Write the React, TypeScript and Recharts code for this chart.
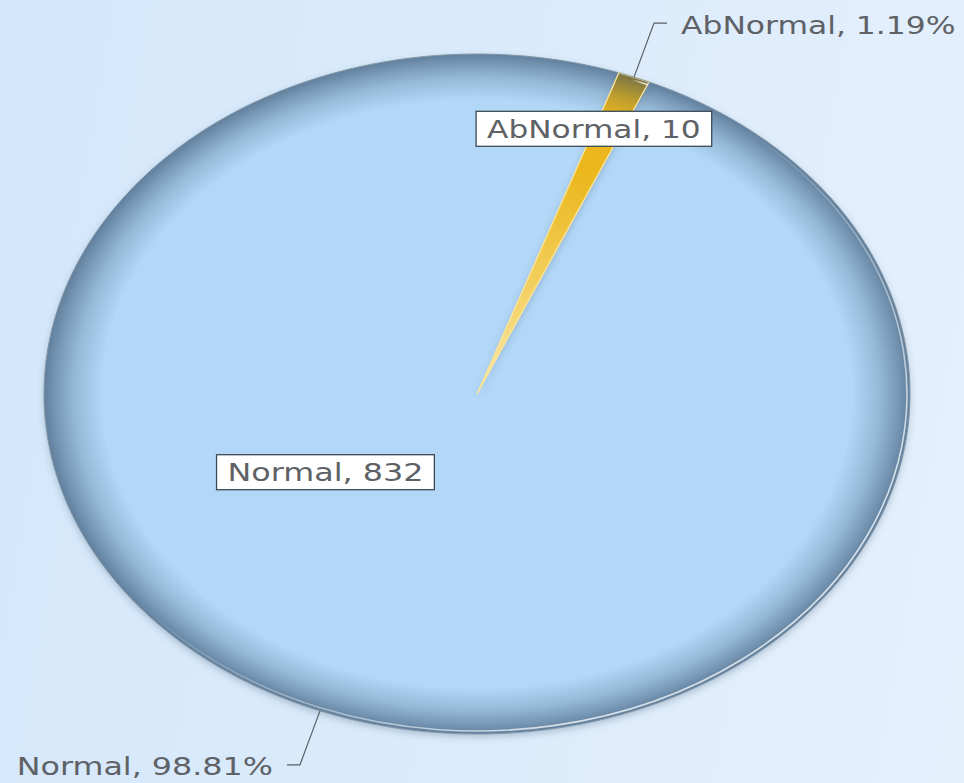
import { PieChart, Pie, Cell } from 'recharts'

const categories = ['Normal', 'AbNormal']
const counts = [832, 10]
const sliceColors = ['#b3d7f7', '#ebb71b']
const centerGlow = [0, 0.75]

const data = categories.map((name, i) => ({ name, value: counts[i] }))

const W = 964
const H = 783
const CX = 477
const CY = 394
const RX = 433
const RY = 340
const K = RY / RX
const START = 66.6
const RAD = Math.PI / 180
const FONT = '"DejaVu Sans", Verdana, sans-serif'
const CHAR_W = 17.8

// where the boxed value labels sit, in units of the ellipse radii
const insideSpots = [
  [-0.35, 0.23],
  [0.27, -0.78],
]

const pt = (cx: number, cy: number, rx: number, ry: number, a: number) => [
  cx + rx * Math.cos(a * RAD),
  cy - ry * Math.sin(a * RAD),
]

const arcPath = (cx: number, cy: number, rx: number, ry: number, a0: number, a1: number, closed: boolean) => {
  const [x1, y1] = pt(cx, cy, rx, ry, a0)
  const [x2, y2] = pt(cx, cy, rx, ry, a1)
  const large = Math.abs(a0 - a1) > 180 ? 1 : 0
  const sweep = a0 > a1 ? 1 : 0
  const a = `A${rx},${ry} 0 ${large} ${sweep} ${x2},${y2}`
  return closed ? `M${cx},${cy} L${x1},${y1} ${a} Z` : `M${x1},${y1} ${a}`
}

const EllipseSector = (props: any) => {
  const { cx, cy, outerRadius, startAngle, endAngle, fill, index } = props
  const rx = outerRadius
  const ry = outerRadius * K
  const d = arcPath(cx, cy, rx, ry, startAngle, endAngle, true)
  const edge = arcPath(cx, cy, rx, ry, startAngle, endAngle, false)
  const shine = arcPath(cx, cy, rx - 3, ry - 3, startAngle, endAngle, false)
  const squash = `translate(0 ${cy}) scale(1 ${K}) translate(0 ${-cy})`
  return (
    <g>
      <defs>
        <radialGradient id={`rim-${index}`} gradientUnits="userSpaceOnUse" cx={cx} cy={cy} r={rx} gradientTransform={squash}>
          <stop offset="0" stopColor="#000" stopOpacity={0} />
          <stop offset="0.865" stopColor="#2e4c68" stopOpacity={0} />
          <stop offset="0.93" stopColor="#2e4c68" stopOpacity={0.22} />
          <stop offset="0.975" stopColor="#2a4662" stopOpacity={0.45} />
          <stop offset="1" stopColor="#24405b" stopOpacity={0.58} />
        </radialGradient>
        <radialGradient id={`glow-${index}`} gradientUnits="userSpaceOnUse" cx={cx} cy={cy} r={rx} gradientTransform={squash}>
          <stop offset="0" stopColor="#fffbe8" stopOpacity={centerGlow[index]} />
          <stop offset="0.35" stopColor="#fff6c8" stopOpacity={centerGlow[index] * 0.5} />
          <stop offset="0.7" stopColor="#fff6c8" stopOpacity={0} />
        </radialGradient>
        <linearGradient id={`shine-${index}`} x1="0" y1="0" x2="1" y2="1">
          <stop offset="0.45" stopColor="#ffffff" stopOpacity={0} />
          <stop offset="0.8" stopColor="#ffffff" stopOpacity={0.75} />
        </linearGradient>
        <filter id={`sh-${index}`} x="-10%" y="-10%" width="120%" height="120%">
          <feDropShadow dx="0" dy="3" stdDeviation="3.5" floodColor="#3a5670" floodOpacity="0.3" />
        </filter>
      </defs>
      <path d={d} fill={fill} filter={`url(#sh-${index})`} />
      <path d={d} fill={`url(#glow-${index})`} />
      <path d={d} fill={`url(#rim-${index})`} />
      {index === 1 && <path d={d} fill="none" stroke="#f8e39a" strokeWidth={1.4} />}
      <path d={shine} fill="none" stroke={`url(#shine-${index})`} strokeWidth={1.6} />
      <path d={edge} fill="none" stroke="#8496a6" strokeWidth={1} />
    </g>
  )
}

const renderLabel = (p: any) => {
  const { cx, cy, outerRadius, midAngle, percent, name, value, index } = p
  const rx = outerRadius
  const ry = outerRadius * K
  const [ex, ey] = pt(cx, cy, rx, ry, midAngle)
  const sx = Math.cos(midAngle * RAD) >= 0 ? 1 : -1
  const sy = Math.sin(midAngle * RAD) >= 0 ? -1 : 1
  const ox = ex + sx * 20
  const oy = ey + sy * 54
  const hx = ox + sx * 13
  const outer = `${name}, ${(percent * 100).toFixed(2)}%`
  const inner = `${name}, ${value}`
  const innerW = inner.length * CHAR_W
  const bx = cx + insideSpots[index][0] * rx
  const by = cy + insideSpots[index][1] * ry
  return (
    <g>
      <polyline
        points={`${ex},${ey} ${ox},${oy} ${hx},${oy}`}
        fill="none"
        stroke="#5a5f66"
        strokeWidth={1.2}
      />
      <text
        x={hx + sx * 14}
        y={oy + 2}
        textAnchor={sx > 0 ? 'start' : 'end'}
        dominantBaseline="central"
        fontFamily={FONT}
        fontSize={25}
        fill="#5e6266"
        textLength={outer.length * 18.3}
        lengthAdjust="spacingAndGlyphs"
      >
        {outer}
      </text>
      <rect
        x={bx - innerW / 2 - 11}
        y={by - 17.5}
        width={innerW + 22}
        height={35}
        fill="#ffffff"
        stroke="#3c4a57"
        strokeWidth={1.3}
      />
      <text
        x={bx}
        y={by + 1}
        textAnchor="middle"
        dominantBaseline="central"
        fontFamily={FONT}
        fontSize={24}
        fill="#5e6266"
        textLength={innerW}
        lengthAdjust="spacingAndGlyphs"
      >
        {inner}
      </text>
    </g>
  )
}

export default function App() {
  return (
    <div
      style={{
        position: 'absolute',
        left: 0,
        top: 0,
        width: W,
        height: H,
        background: 'linear-gradient(100deg, #d4e7fa 0%, #dbebfb 50%, #e5f0fd 100%)',
      }}
    >
      <PieChart width={W} height={H} margin={{ top: 0, right: 0, bottom: 0, left: 0 }}>
        <Pie
          data={data}
          dataKey="value"
          nameKey="name"
          cx={CX}
          cy={CY}
          outerRadius={RX}
          startAngle={START}
          endAngle={START - 360}
          stroke="none"
          shape={EllipseSector}
          label={renderLabel}
          labelLine={false}
          isAnimationActive={false}
        >
          {data.map((d, i) => (
            <Cell key={d.name} fill={sliceColors[i]} />
          ))}
        </Pie>
      </PieChart>
    </div>
  )
}
